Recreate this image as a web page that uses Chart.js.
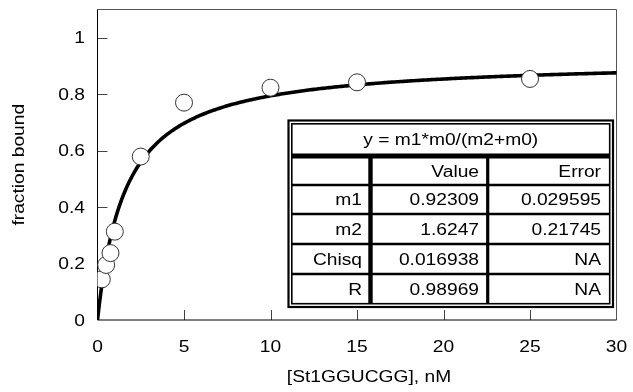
<!DOCTYPE html>
<html>
<head>
<meta charset="utf-8">
<script src="https://cdn.jsdelivr.net/npm/chart.js@4.4.1/dist/chart.umd.min.js"></script>
<style>
  html, body { margin: 0; padding: 0; background: #fff; }
  #wrap { position: relative; width: 633px; height: 392px; }
</style>
</head>
<body>
<div id="wrap"><canvas id="chart" width="633" height="392"></canvas></div>
<script>
// Binding data: ligand concentration (nM) vs fraction of RNA bound
const concentrations = [0.25, 0.5, 0.75, 1, 2.5, 5, 10, 15, 25];
const fractionBound = [0.144, 0.195, 0.237, 0.313, 0.579, 0.770, 0.823, 0.842, 0.854];

// Fit results for y = m1*m0/(m2+m0)
const fitEquation = 'y = m1*m0/(m2+m0)';
const fitParams = { m1: 0.92309, m2: 1.6247 };
const tableHeader = ['', 'Value', 'Error'];
const tableRows = [
  ['m1', '0.92309', '0.029595'],
  ['m2', '1.6247', '0.21745'],
  ['Chisq', '0.016938', 'NA'],
  ['R', '0.98969', 'NA']
];

// Axis ticks and titles
const xTickValues = [0, 5, 10, 15, 20, 25, 30];
const yTickValues = [0, 0.2, 0.4, 0.6, 0.8, 1];
const xTickLabels = ['0', '5', '10', '15', '20', '25', '30'];
const yTickLabels = ['0', '0.2', '0.4', '0.6', '0.8', '1'];
const xTitle = '[St1GGUCGG], nM';
const yTitle = 'fraction bound';

// Fitted hyperbola sampled over the x range using the fit parameters
const fitCurve = [];
for (let i = 0; i <= 300; i++) {
  const x = i * 0.1;
  fitCurve.push({ x: x, y: fitParams.m1 * x / (fitParams.m2 + x) });
}

const FONT = '16px "Liberation Sans", Arial, sans-serif';
const STRETCH = 1.2; // wide lettering

function drawText(ctx, text, x, y, align, angle) {
  ctx.save();
  ctx.translate(x, y);
  if (angle) ctx.rotate(angle);
  ctx.scale(STRETCH, 1);
  ctx.font = FONT;
  ctx.fillStyle = '#000';
  ctx.textAlign = align;
  ctx.textBaseline = 'alphabetic';
  ctx.fillText(text, 0, 0);
  ctx.restore();
}

// Frame, inward tick marks, axis labels and the fit-results table
const framePlugin = {
  id: 'frame',
  beforeDatasetsDraw(chart) {
    const { ctx, chartArea: a, scales: { x, y } } = chart;
    ctx.save();
    // top and right frame
    ctx.strokeStyle = '#555';
    ctx.lineWidth = 1;
    ctx.beginPath();
    ctx.moveTo(a.left, a.top);
    ctx.lineTo(a.right, a.top);
    ctx.lineTo(a.right, a.bottom);
    ctx.stroke();
    // inward ticks
    ctx.strokeStyle = '#444';
    ctx.beginPath();
    xTickValues.forEach(v => {
      if (v === 0 || v === 30) return;
      const px = Math.round(x.getPixelForValue(v)) + 0.5;
      ctx.moveTo(px, a.bottom);
      ctx.lineTo(px, a.bottom - 10);
    });
    yTickValues.forEach(v => {
      if (v === 0) return;
      const py = Math.round(y.getPixelForValue(v)) + 0.5;
      ctx.moveTo(a.left, py);
      ctx.lineTo(a.left + 10, py);
    });
    ctx.stroke();
    // axes
    ctx.strokeStyle = '#000';
    ctx.beginPath();
    ctx.moveTo(a.left, a.top);
    ctx.lineTo(a.left, a.bottom);
    ctx.lineTo(a.right, a.bottom);
    ctx.stroke();
    ctx.restore();

    // tick labels
    xTickValues.forEach((v, i) => {
      drawText(ctx, xTickLabels[i], x.getPixelForValue(v), a.bottom + 32, 'center');
    });
    yTickValues.forEach((v, i) => {
      drawText(ctx, yTickLabels[i], a.left - 12.5, y.getPixelForValue(v) + 5.7, 'right');
    });
    // axis titles
    drawText(ctx, xTitle, (a.left + a.right) / 2 + 12, 381.5, 'center');
    drawText(ctx, yTitle, 24, (a.top + a.bottom) / 2, 'center', -Math.PI / 2);
  },
  afterDatasetsDraw(chart) {
    const { ctx } = chart;
    const L = 287.5, R = 614, T = 119.5, B = 308;
    ctx.save();
    ctx.fillStyle = '#fff';
    ctx.fillRect(L, T, R - L, B - T);
    ctx.strokeStyle = '#000';
    // double outer border
    ctx.lineWidth = 2.2;
    ctx.strokeRect(L + 1, T + 1, R - L - 2, B - T - 2);
    ctx.lineWidth = 1.6;
    const iL = L + 4.3, iR = R - 4.3, iT = T + 4.3, iB = B - 4.3;
    ctx.strokeRect(iL, iT, iR - iL, iB - iT);

    const sepY = [156, 185, 214, 244, 274];
    const sepW = [5.2, 2.6, 2.6, 2.6, 2.6];
    sepY.forEach((yy, i) => {
      ctx.lineWidth = sepW[i];
      ctx.beginPath();
      ctx.moveTo(iL, yy);
      ctx.lineTo(iR, yy);
      ctx.stroke();
    });
    // column separators
    ctx.lineWidth = 4.4;
    ctx.beginPath();
    ctx.moveTo(370.5, 156);
    ctx.lineTo(370.5, iB);
    ctx.stroke();
    ctx.lineWidth = 3.2;
    ctx.beginPath();
    ctx.moveTo(487.7, 156);
    ctx.lineTo(487.7, iB);
    ctx.stroke();
    ctx.restore();

    drawText(ctx, fitEquation, (iL + iR) / 2, 145.2, 'center');
    const colRight = [362, 479, 601];
    const centers = [171.5, 199.5, 229, 259, 289];
    [tableHeader].concat(tableRows).forEach((row, r) => {
      row.forEach((txt, c) => {
        if (txt) drawText(ctx, txt, colRight[c], centers[r] + 5.7, 'right');
      });
    });
  }
};

new Chart(document.getElementById('chart'), {
  type: 'scatter',
  data: {
    datasets: [
      {
        label: 'data',
        data: concentrations.map((c, i) => ({ x: c, y: fractionBound[i] })),
        pointRadius: 8.5,
        pointBackgroundColor: '#fff',
        pointBorderColor: '#333',
        pointBorderWidth: 1,
        showLine: false,
        order: 0
      },
      {
        label: 'fit',
        data: fitCurve,
        showLine: true,
        pointRadius: 0,
        borderColor: '#000',
        borderWidth: 3.6,
        borderCapStyle: 'square',
        tension: 0,
        order: 1
      }
    ]
  },
  options: {
    responsive: false,
    animation: false,
    events: [],
    layout: { padding: { top: 6.5, right: 16.5, left: 0, bottom: 0 } },
    plugins: { legend: { display: false }, tooltip: { enabled: false } },
    scales: {
      x: {
        type: 'linear',
        min: 0,
        max: 30,
        afterFit(s) { s.height = 72; s.paddingLeft = 0; s.paddingRight = 0; },
        afterBuildTicks(s) { s.ticks = xTickValues.map(v => ({ value: v })); },
        grid: { display: false, drawTicks: false },
        border: { display: false },
        ticks: { display: false }
      },
      y: {
        type: 'linear',
        min: 0,
        max: 1.1,
        afterFit(s) { s.width = 97.5; s.paddingTop = 0; s.paddingBottom = 0; },
        afterBuildTicks(s) { s.ticks = yTickValues.map(v => ({ value: v })); },
        grid: { display: false, drawTicks: false },
        border: { display: false },
        ticks: { display: false }
      }
    }
  },
  plugins: [framePlugin]
});
</script>
</body>
</html>
